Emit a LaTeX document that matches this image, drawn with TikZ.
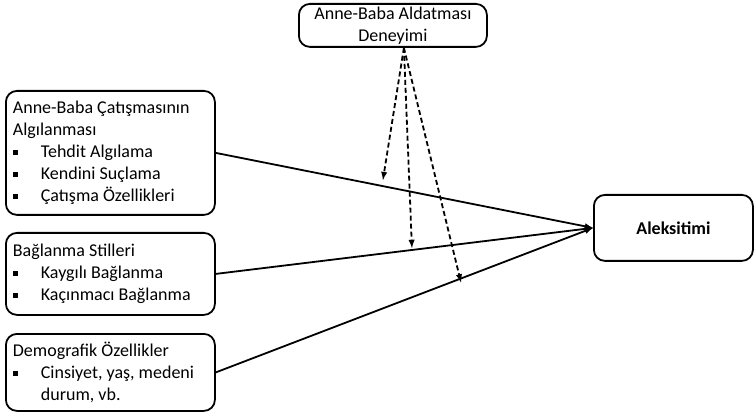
\documentclass[tikz,border=0pt]{standalone}
\usepackage{fontspec}
\setmainfont{Carlito}
\usetikzlibrary{calc}
\newcommand{\madde}{\makebox[28pt][l]{\rule[2.5pt]{5pt}{5pt}}}

\begin{document}
\begin{tikzpicture}[x=1pt,y=-1pt,>=latex,
	kutu/.style={draw,line width=1.8pt,rounded corners=11pt,inner xsep=7pt,inner ysep=0pt,
		font=\fontsize{18}{22}\selectfont},
	solkutu/.style={kutu,anchor=north west,text width=195pt,align=flush left}]
	\useasboundingbox (0,0) rectangle (756,417);
	% kutular
	\node[kutu,anchor=north west,minimum width=188pt,minimum height=43pt,align=center] (aldatma) at (298,3) {Anne-Baba Aldatması\\Deneyimi};
	\node[solkutu,minimum height=124pt] (catisma) at (5,90) {Anne-Baba Çatışmasının\\Algılanması\\\madde Tehdit Algılama\\\madde Kendini Suçlama\\\madde Çatışma Özellikleri};
	\node[solkutu,minimum height=82pt] (baglanma) at (5,232) {Bağlanma Stilleri\\\madde Kaygılı Bağlanma\\\madde Kaçınmacı Bağlanma};
	\node[solkutu,minimum height=77pt] (demografik) at (5,333) {Demografik Özellikler\\\madde Cinsiyet, yaş, medeni\\\hspace*{28pt}durum, vb.};
	\node[kutu,anchor=north west,minimum width=159pt,minimum height=66pt,font=\fontsize{18}{22}\selectfont\bfseries] (aleksitimi) at (593,194) {Aleksitimi};
	% oklar
	\draw[->,line width=1.8pt] (catisma.east) -- (aleksitimi.west);
	\draw[->,line width=1.8pt] (baglanma.east) -- (aleksitimi.west);
	\draw[->,line width=1.8pt] (demografik.east) -- (aleksitimi.west);
	% moderator
	\coordinate (kaynak) at ($(aldatma.south)+(11,0)$);
	\coordinate (m1) at ($(catisma.east)!0.443!(aleksitimi.west)+(0,-6)$);
	\coordinate (m2) at ($(baglanma.east)!0.52!(aleksitimi.west)+(0,-2)$);
	\coordinate (m3) at ($(demografik.east)!0.65!(aleksitimi.west)+(0,4)$);
	\foreach \m in {m1,m2,m3}
		\draw[->,dash pattern=on 5pt off 3pt,line width=1.8pt] (kaynak) -- (\m);
\end{tikzpicture}
\end{document}
